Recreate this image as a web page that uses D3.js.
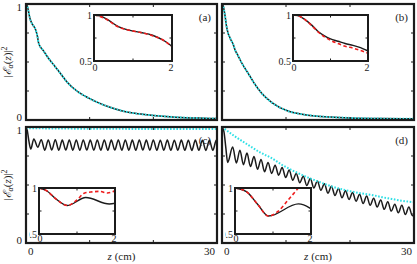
<!DOCTYPE html>
<html>
<head>
<meta charset="utf-8">
<script src="https://cdn.jsdelivr.net/npm/d3@7"></script>
<style>
body{margin:0;background:#fff}
text{font-family:"Liberation Serif","DejaVu Serif",serif;fill:#222}
</style>
</head>
<body>
<svg id="viz" width="417" height="264" font-family="Liberation Serif, DejaVu Serif, serif"></svg>
<script>
// ---- panel (a): smooth decay, black solid / cyan dotted, inset black vs red
const zA = [0,0.15,0.35,0.6,0.9,1.2,1.5,1.8,2,2.7,3.5,4.5,5.5,6.4,8,9.8,11.5,13.2,15,16.8,19,22,25,28,30];
const eA = [1,0.99,0.95,0.88,0.835,0.81,0.78,0.72,0.66,0.6,0.535,0.465,0.395,0.33,0.25,0.19,0.145,0.11,0.08,0.06,0.045,0.03,0.02,0.015,0.012];
const zAred = [0,0.15,0.35,0.6,0.9,1.2,1.5,1.8,2];
const eAred = [1,0.985,0.945,0.875,0.835,0.81,0.775,0.72,0.655];

// ---- panel (b)
const zB = [0,0.15,0.32,0.5,0.67,0.85,1,1.2,1.39,1.6,1.8,2,2.5,3,4,5,6.2,7.8,10.4,12.5,14.5,17,20,25,30];
const eB = [1,0.99,0.95,0.89,0.82,0.77,0.74,0.715,0.69,0.67,0.645,0.61,0.555,0.5,0.41,0.32,0.23,0.15,0.075,0.05,0.035,0.025,0.018,0.012,0.01];
const zBred = [0,0.15,0.32,0.5,0.67,0.85,1,1.2,1.39,1.6,1.8,2];
const eBred = [1,0.99,0.95,0.885,0.815,0.76,0.725,0.69,0.66,0.64,0.615,0.585];

// ---- panel (c): fast drop then steady oscillation
const zC = [0,0.2,0.45,0.75,1.23,1.85,2.4,2.95,3.5,4.05,4.6,5.15,5.7,6.25,6.8,7.35,7.9,8.45,9,9.55,10.1,10.65,11.2,11.75,12.3,12.85,13.4,13.95,14.5,15.05,15.6,16.15,16.7,17.25,17.8,18.35,18.9,19.45,20,20.55,21.1,21.65,22.2,22.75,23.3,23.85,24.4,24.95,25.5,26.05,26.6,27.15,27.7,28.25,28.8,29.35,29.9,30.45];
const eC = [1,0.97,0.88,0.81,0.897,0.826,0.89,0.8,0.888,0.802,0.89,0.8,0.887,0.801,0.889,0.8,0.888,0.799,0.889,0.801,0.887,0.8,0.888,0.8,0.889,0.799,0.887,0.801,0.888,0.8,0.889,0.8,0.887,0.799,0.888,0.801,0.887,0.8,0.888,0.799,0.886,0.8,0.887,0.799,0.886,0.8,0.887,0.799,0.886,0.798,0.887,0.799,0.886,0.798,0.885,0.799,0.886,0.8];
const zCcyan = [0,5,10,15,20,25,30];
const eCcyan = [0.99,0.987,0.985,0.984,0.983,0.983,0.982];
const zCred = [0,0.2,0.45,0.75,1,1.19,1.4,1.6,1.8,2];
const eCred = [1,0.97,0.88,0.81,0.87,0.944,0.958,0.963,0.946,0.97];

// ---- panel (d): drop, oscillation riding on a decay
const zD = [0,0.3,0.6,0.88,1.67,2.25,2.8,3.35,3.9,4.45,5,5.55,6.1,6.65,7.2,7.75,8.3,8.85,9.4,9.95,10.5,11.05,11.6,12.15,12.7,13.25,13.8,14.35,14.9,15.45,16,16.55,17.1,17.65,18.2,18.75,19.3,19.85,20.4,20.95,21.5,22.05,22.6,23.15,23.7,24.25,24.8,25.35,25.9,26.45,27,27.55,28.1,28.65,29.2,29.75,30.3];
const eD = [1,0.96,0.82,0.695,0.827,0.69,0.8,0.675,0.775,0.66,0.745,0.635,0.72,0.615,0.695,0.6,0.67,0.585,0.65,0.565,0.63,0.54,0.6,0.52,0.575,0.495,0.555,0.475,0.535,0.455,0.51,0.43,0.49,0.41,0.47,0.39,0.45,0.375,0.435,0.36,0.42,0.34,0.405,0.325,0.385,0.31,0.37,0.29,0.355,0.275,0.335,0.26,0.325,0.245,0.31,0.235,0.3];
const zDcyan = [0,2,4.1,6,7.8,9.5,11.4,13,15,17,19.2,21.5,23.4,25,26.5,28,30];
const eDcyan = [1,0.92,0.845,0.78,0.73,0.67,0.615,0.575,0.53,0.49,0.457,0.43,0.414,0.395,0.38,0.365,0.352];
const zDred = [0,0.3,0.6,0.88,1.14,1.4,1.67,1.9];
const eDred = [1,0.96,0.82,0.695,0.748,0.87,1,1.1];

const mainXTicks = [0,10,20,30];
const mainYTicks = [0,0.25,0.5,0.75,1];
const insetXTicks = [0,1,2];
const insetYTicks = [0.5,0.75,1];

const panels = [
  {id:"a", box:[26,4,217,120], inset:[94,15,172,61], black:[zA,eA], cyan:[zA,eA], red:[zAred,eAred], left:true, bottom:false},
  {id:"b", box:[222,4,414,120], inset:[293,15,368,61], black:[zB,eB], cyan:[zB,eB], red:[zBred,eBred], left:false, bottom:false},
  {id:"c", box:[26,127,217,243], inset:[39,188,115,234], black:[zC,eC], cyan:[zCcyan,eCcyan], red:[zCred,eCred], left:true, bottom:true},
  {id:"d", box:[222,127,414,243], inset:[235,188,311,234], black:[zD,eD], cyan:[zDcyan,eDcyan], red:[zDred,eDred], left:false, bottom:true}
];

const svg = d3.select("#viz");
const defs = svg.append("defs");
const ink = "#1b1b1b";

function lineFor(x, y){
  return d3.line().x(d => x(d[0])).y(d => y(d[1])).curve(d3.curveMonotoneX);
}
function pairs(s){ return s[0].map((z,i) => [z, s[1][i]]); }

function ticks(g, x, y, xs, ys, len){
  const [x0,x1] = x.range(), [y1,y0] = y.range();
  xs.forEach(t => {
    g.append("line").attr("x1",x(t)).attr("x2",x(t)).attr("y1",y1).attr("y2",y1-len).attr("stroke",ink);
    g.append("line").attr("x1",x(t)).attr("x2",x(t)).attr("y1",y0).attr("y2",y0+len).attr("stroke",ink);
  });
  ys.forEach(t => {
    g.append("line").attr("x1",x0).attr("x2",x0+len).attr("y1",y(t)).attr("y2",y(t)).attr("stroke",ink);
    g.append("line").attr("x1",x1).attr("x2",x1-len).attr("y1",y(t)).attr("y2",y(t)).attr("stroke",ink);
  });
}

panels.forEach(p => {
  const [bx0,by0,bx1,by1] = p.box;
  const x = d3.scaleLinear().domain([0,30]).range([bx0,bx1]);
  const y = d3.scaleLinear().domain([0,1]).range([by1,by0]);
  const g = svg.append("g");

  defs.append("clipPath").attr("id","clip"+p.id)
    .append("rect").attr("x",bx0+1).attr("y",by0+1).attr("width",bx1-bx0-2).attr("height",by1-by0-2);
  defs.append("clipPath").attr("id","lclip"+p.id)
    .append("rect").attr("x",bx0+3).attr("y",by0+1).attr("width",bx1-bx0-4).attr("height",by1-by0+20);

  const plot = g.append("g").attr("clip-path","url(#clip"+p.id+")");
  const main = lineFor(x,y);
  plot.append("path").attr("d",main(pairs(p.black))).attr("fill","none").attr("stroke",ink).attr("stroke-width",1.5);
  plot.append("path").attr("d",main(pairs(p.cyan))).attr("fill","none").attr("stroke","#2fe0e6")
    .attr("stroke-width",2).attr("stroke-dasharray","1.6,1.6");

  // panel tag
  plot.append("text").attr("x",bx1-6).attr("y",by0+17).attr("text-anchor","end")
    .attr("font-size",11).text("("+p.id+")");

  // inset
  const [ix0,iy0,ix1,iy1] = p.inset;
  const xi = d3.scaleLinear().domain([0,2]).range([ix0,ix1]);
  const yi = d3.scaleLinear().domain([0.5,1]).range([iy1,iy0]);
  plot.append("rect").attr("x",ix0).attr("y",iy0).attr("width",ix1-ix0).attr("height",iy1-iy0).attr("fill","#fff");
  defs.append("clipPath").attr("id","iclip"+p.id)
    .append("rect").attr("x",ix0).attr("y",iy0).attr("width",ix1-ix0).attr("height",iy1-iy0);
  const ig = plot.append("g").attr("clip-path","url(#iclip"+p.id+")");
  const il = lineFor(xi,yi);
  ig.append("path").attr("d",il(pairs(p.black).filter(d => d[0] <= 2.6))).attr("fill","none").attr("stroke",ink).attr("stroke-width",1.4);
  ig.append("path").attr("d",il(pairs(p.red))).attr("fill","none").attr("stroke","#ee1c1c")
    .attr("stroke-width",1.6).attr("stroke-dasharray","3.5,2.5");
  ticks(plot, xi, yi, insetXTicks, insetYTicks, 2.5);
  plot.append("rect").attr("x",ix0).attr("y",iy0).attr("width",ix1-ix0).attr("height",iy1-iy0)
    .attr("fill","none").attr("stroke",ink).attr("stroke-width",2);
  const lab = g.append("g").attr("clip-path","url(#lclip"+p.id+")").attr("font-size",10);
  const lx = Math.min(iy1 + 10, by1 - 1);
  lab.append("text").attr("x",ix0-2).attr("y",yi(1)+3.5).attr("text-anchor","end").text("1");
  lab.append("text").attr("x",ix0-2).attr("y",yi(0.5)+3.5).attr("text-anchor","end").text("0.5");
  lab.append("text").attr("x",xi(0)+1).attr("y",lx).attr("text-anchor","middle").text("0");
  lab.append("text").attr("x",xi(2)-1).attr("y",lx).attr("text-anchor","middle").text("2");

  // frame + ticks
  ticks(g, x, y, mainXTicks, mainYTicks, 3);
  g.append("rect").attr("x",bx0).attr("y",by0).attr("width",bx1-bx0).attr("height",by1-by0)
    .attr("fill","none").attr("stroke",ink).attr("stroke-width",2.2);

  if (p.left){
    g.append("text").attr("x",bx0-4).attr("y",y(1)+7).attr("text-anchor","end").attr("font-size",11).text("1");
    g.append("text").attr("x",bx0-4).attr("y",y(0)+1).attr("text-anchor","end").attr("font-size",11).text("0");
    const yl = g.append("text").attr("transform","translate(11,"+((by0+by1)/2)+") rotate(-90)")
      .attr("text-anchor","middle").attr("font-size",11);
    yl.append("tspan").text("|");
    yl.append("tspan").attr("font-style","italic").text("ℰ");
    yl.append("tspan").attr("font-style","italic").attr("font-size",8).attr("dy",2).text("α");
    yl.append("tspan").attr("dy",-2).text("(");
    yl.append("tspan").attr("font-style","italic").text("z");
    yl.append("tspan").text(")|");
    yl.append("tspan").attr("font-size",8).attr("dy",-4).text("2");
  }
  if (p.bottom){
    g.append("text").attr("x",x(0)+2).attr("y",by1+12).attr("text-anchor","start").attr("font-size",11).text("0");
    g.append("text").attr("x",x(30)-2).attr("y",by1+12).attr("text-anchor","end").attr("font-size",11).text("30");
    const xl = g.append("text").attr("x",(bx0+bx1)/2).attr("y",by1+17).attr("text-anchor","middle").attr("font-size",11);
    xl.append("tspan").attr("font-style","italic").text("z");
    xl.append("tspan").text(" (cm)");
  }
});
</script>
</body>
</html>
